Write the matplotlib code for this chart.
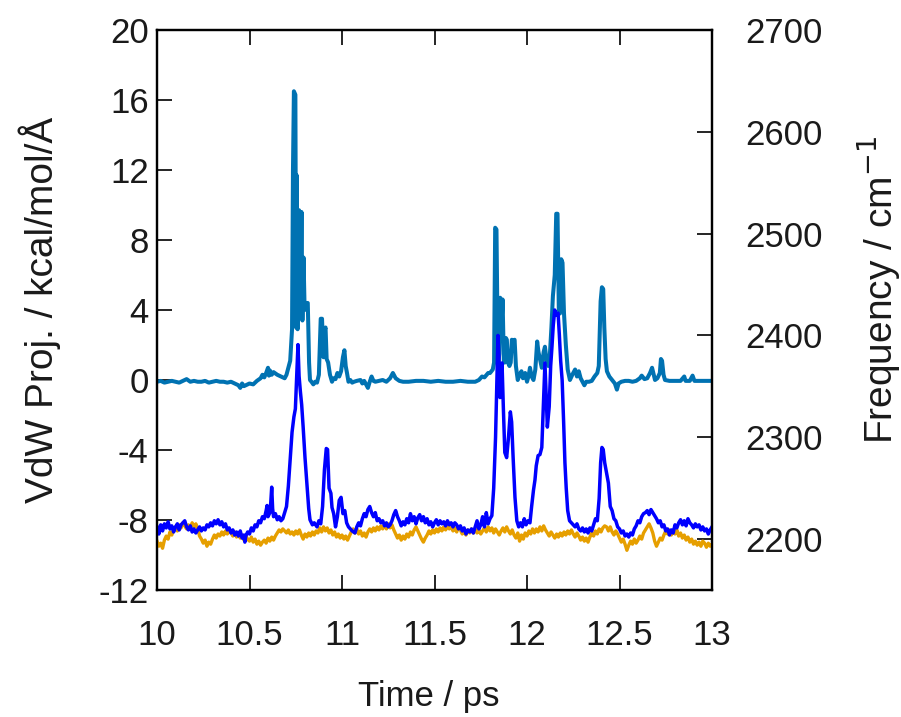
import matplotlib
matplotlib.use("Agg")
import matplotlib.pyplot as plt

# VdW projection (left axis), kcal/mol/A
vdw_t = [10.00, 10.02, 10.04, 10.06, 10.08, 10.10, 10.12, 10.14, 10.16, 10.18,
         10.20, 10.22, 10.24, 10.26, 10.28, 10.30, 10.32, 10.34, 10.36, 10.38,
         10.40, 10.42, 10.44, 10.45, 10.46, 10.47, 10.48, 10.50, 10.52, 10.54,
         10.56, 10.57, 10.58, 10.59, 10.60, 10.605, 10.61, 10.62, 10.63, 10.65,
         10.67, 10.69, 10.70, 10.71, 10.72, 10.73, 10.735, 10.740, 10.748, 10.752,
         10.755, 10.760, 10.768, 10.775, 10.781, 10.786, 10.792, 10.798, 10.805, 10.815,
         10.822, 10.827, 10.835, 10.845, 10.855, 10.865, 10.875, 10.885, 10.892, 10.900,
         10.905, 10.911, 10.917, 10.925, 10.935, 10.946, 10.955, 10.965, 10.975, 10.985,
         10.995, 11.005, 11.013, 11.020, 11.027, 11.035, 11.045, 11.055, 11.065, 11.08,
         11.10, 11.11, 11.12, 11.13, 11.14, 11.15, 11.16, 11.17, 11.18, 11.20,
         11.22, 11.24, 11.26, 11.275, 11.29, 11.31, 11.33, 11.36, 11.40, 11.44,
         11.48, 11.52, 11.56, 11.60, 11.64, 11.68, 11.72, 11.74, 11.757, 11.77,
         11.79, 11.80, 11.815, 11.822, 11.828, 11.835, 11.843, 11.850, 11.855, 11.862,
         11.868, 11.875, 11.880, 11.886, 11.891, 11.897, 11.905, 11.912, 11.918, 11.926,
         11.933, 11.940, 11.950, 11.960, 11.970, 11.978, 11.990, 12.000, 12.010, 12.016,
         12.025, 12.035, 12.045, 12.055, 12.062, 12.070, 12.080, 12.090, 12.097, 12.105,
         12.115, 12.124, 12.132, 12.140, 12.150, 12.158, 12.165, 12.172, 12.178, 12.185,
         12.192, 12.200, 12.210, 12.220, 12.232, 12.245, 12.26, 12.27, 12.28, 12.29,
         12.30, 12.31, 12.32, 12.335, 12.35, 12.365, 12.38, 12.388, 12.398, 12.405,
         12.412, 12.418, 12.425, 12.432, 12.445, 12.46, 12.475, 12.486, 12.495, 12.51,
         12.53, 12.55, 12.57, 12.59, 12.61, 12.62, 12.635, 12.65, 12.665, 12.676,
         12.685, 12.692, 12.705, 12.718, 12.724, 12.730, 12.738, 12.746, 12.77, 12.80,
         12.83, 12.85, 12.857, 12.88, 12.895, 12.905, 12.93, 12.96, 13.00]
vdw_v = [-0.10, -0.05, -0.15, -0.10, -0.05, -0.10, -0.15, -0.05, 0.05, -0.10,
         -0.05, -0.10, -0.10, -0.05, -0.15, -0.10, -0.05, -0.10, -0.10, -0.15,
         -0.10, -0.20, -0.30, -0.45, -0.20, -0.35, -0.30, -0.20, -0.25, -0.05,
         0.10, 0.30, 0.15, 0.40, 0.70, 0.25, 0.55, 0.30, 0.45, 0.30,
         0.20, 0.10, 0.30, 0.70, 1.10, 2.90, 12.0, 16.5, 16.3, 3.0,
         11.7, 2.9, 9.7, 4.0, 9.6, 3.4, 7.0, 4.0, 4.4, 4.4,
         1.0, 0.0, -0.10, -0.25, -0.10, -0.15, 0.30, 3.5, 3.5, 1.3,
         2.8, 3.0, 1.2, 1.0, 0.3, -0.10, 0.10, 0.05, 0.40, 0.20,
         0.50, 1.30, 1.70, 0.80, 0.40, -0.10, 0.00, -0.15, -0.10, -0.05,
         0.00, -0.20, -0.05, -0.25, -0.45, -0.10, 0.20, -0.05, -0.10, -0.05,
         0.00, -0.10, 0.10, 0.40, 0.10, -0.05, -0.10, -0.10, -0.05, -0.05,
         -0.10, -0.05, -0.10, -0.10, -0.05, -0.10, -0.10, 0.00, 0.20, 0.15,
         0.40, 0.40, 0.60, 1.00, 8.7, 8.6, 0.60, 1.50, 4.7, 3.0,
         4.6, 1.0, 1.0, 2.4, 2.3, 1.0, 0.8, 1.0, 2.3, 2.2,
         2.3, 0.8, 0.0, 0.3, 0.5, 0.1, 0.4, -0.1, 0.3, 0.7,
         0.2, 0.0, 0.6, 2.2, 1.6, 1.2, 0.7, 1.6, 1.9, 1.2,
         0.8, 1.5, 3.0, 4.8, 6.0, 9.5, 9.5, 4.0, 3.8, 6.9,
         6.7, 3.8, 2.0, 0.6, 0.0, 0.3, 0.6, 0.2, 0.5, 0.1,
         -0.10, -0.30, -0.10, -0.10, -0.05, 0.20, 0.40, 0.80, 4.5, 5.3,
         5.2, 3.0, 1.2, 0.5, 0.2, 0.00, -0.20, -0.55, -0.20, -0.10,
         -0.05, -0.05, -0.10, -0.05, 0.10, 0.25, 0.05, 0.10, 0.40, 0.70,
         0.30, 0.00, 0.10, 0.40, 1.20, 1.10, 0.30, 0.00, -0.05, -0.05,
         -0.05, 0.20, -0.05, -0.05, 0.25, -0.05, -0.05, -0.05, -0.05]

# frequency trajectories (right axis), cm-1
freq_t = [10.00, 10.01, 10.02, 10.03, 10.04, 10.05, 10.06, 10.07, 10.08, 10.09,
          10.10, 10.11, 10.12, 10.13, 10.14, 10.15, 10.16, 10.17, 10.18, 10.19,
          10.20, 10.21, 10.22, 10.23, 10.24, 10.25, 10.26, 10.27, 10.28, 10.29,
          10.30, 10.31, 10.32, 10.33, 10.34, 10.35, 10.36, 10.37, 10.38, 10.39,
          10.40, 10.41, 10.42, 10.43, 10.44, 10.45, 10.46, 10.47, 10.475, 10.48,
          10.49, 10.50, 10.51, 10.52, 10.53, 10.54, 10.55, 10.56, 10.57, 10.58,
          10.59, 10.595, 10.60, 10.61, 10.615, 10.62, 10.625, 10.63, 10.64, 10.65,
          10.66, 10.67, 10.68, 10.69, 10.70, 10.71, 10.72, 10.73, 10.74, 10.748,
          10.755, 10.762, 10.768, 10.775, 10.782, 10.79, 10.80, 10.81, 10.82, 10.827,
          10.84, 10.85, 10.865, 10.875, 10.885, 10.895, 10.905, 10.915, 10.922, 10.93,
          10.94, 10.946, 10.955, 10.965, 10.975, 10.985, 10.995, 11.005, 11.015, 11.025,
          11.035, 11.045, 11.055, 11.07, 11.08, 11.09, 11.10, 11.11, 11.12, 11.13,
          11.14, 11.15, 11.16, 11.17, 11.18, 11.19, 11.20, 11.21, 11.22, 11.23,
          11.24, 11.25, 11.26, 11.27, 11.28, 11.29, 11.30, 11.31, 11.32, 11.33,
          11.34, 11.35, 11.36, 11.37, 11.38, 11.39, 11.40, 11.41, 11.42, 11.43,
          11.44, 11.45, 11.46, 11.47, 11.48, 11.49, 11.50, 11.51, 11.52, 11.53,
          11.54, 11.55, 11.56, 11.57, 11.58, 11.59, 11.60, 11.61, 11.62, 11.63,
          11.64, 11.65, 11.66, 11.67, 11.68, 11.69, 11.70, 11.71, 11.72, 11.73,
          11.74, 11.75, 11.76, 11.77, 11.78, 11.79, 11.80, 11.81, 11.82, 11.83,
          11.838, 11.843, 11.848, 11.854, 11.86, 11.865, 11.872, 11.88, 11.89, 11.90,
          11.91, 11.917, 11.925, 11.935, 11.945, 11.955, 11.965, 11.975, 11.985, 11.995,
          12.005, 12.016, 12.025, 12.035, 12.043, 12.05, 12.06, 12.07, 12.08, 12.088,
          12.097, 12.104, 12.11, 12.12, 12.128, 12.135, 12.142, 12.15, 12.158, 12.168,
          12.175, 12.182, 12.19, 12.198, 12.205, 12.212, 12.22, 12.23, 12.24, 12.25,
          12.26, 12.27, 12.28, 12.29, 12.30, 12.31, 12.32, 12.33, 12.34, 12.35,
          12.36, 12.37, 12.38, 12.39, 12.398, 12.405, 12.412, 12.42, 12.43, 12.44,
          12.45, 12.46, 12.47, 12.48, 12.49, 12.50, 12.51, 12.52, 12.53, 12.54,
          12.55, 12.56, 12.57, 12.58, 12.59, 12.60, 12.61, 12.62, 12.63, 12.64,
          12.65, 12.66, 12.67, 12.68, 12.69, 12.70, 12.71, 12.72, 12.73, 12.74,
          12.75, 12.76, 12.77, 12.78, 12.79, 12.80, 12.81, 12.82, 12.83, 12.84,
          12.85, 12.86, 12.87, 12.88, 12.89, 12.90, 12.91, 12.92, 12.93, 12.94,
          12.95, 12.96, 12.97, 12.98, 12.99, 13.00]
freq_blue = [2212, 2205, 2214, 2208, 2215, 2211, 2217, 2210, 2213, 2207,
             2212, 2215, 2209, 2214, 2216, 2218, 2212, 2209, 2213, 2207,
             2210, 2206, 2209, 2212, 2208, 2211, 2209, 2214, 2212, 2216,
             2213, 2218, 2215, 2219, 2214, 2217, 2212, 2215, 2209, 2211,
             2206, 2209, 2204, 2207, 2203, 2208, 2201, 2204, 2197, 2203,
             2207, 2205, 2211, 2208, 2214, 2212, 2218, 2216, 2222, 2220,
             2228, 2233, 2222, 2226, 2236, 2251, 2230, 2222, 2225, 2219,
             2222, 2218, 2220, 2226, 2232, 2252, 2278, 2305, 2320, 2328,
             2360, 2391, 2360, 2345, 2332, 2310, 2280, 2255, 2230, 2219,
             2214, 2216, 2212, 2218, 2215, 2232, 2268, 2289, 2288, 2250,
             2245, 2231, 2225, 2212, 2222, 2238, 2241, 2225, 2228, 2216,
             2212, 2210, 2208, 2206, 2212, 2216, 2213, 2220, 2225, 2222,
             2229, 2232, 2226, 2222, 2226, 2218, 2220, 2216, 2218, 2213,
             2216, 2212, 2214, 2218, 2224, 2228, 2222, 2218, 2213, 2217,
             2214, 2220, 2216, 2225, 2218, 2222, 2215, 2221, 2224, 2218,
             2222, 2216, 2220, 2214, 2217, 2212, 2216, 2219, 2214, 2218,
             2215, 2217, 2213, 2218, 2214, 2216, 2212, 2216, 2214, 2210,
             2213, 2208, 2211, 2205, 2209, 2207, 2210, 2206, 2212, 2218,
             2210, 2214, 2222, 2212, 2226, 2215, 2220, 2223, 2250, 2300,
             2360, 2400, 2380, 2339, 2355, 2373, 2330, 2285, 2280, 2300,
             2325, 2315, 2280, 2241, 2218, 2212, 2216, 2212, 2220, 2214,
             2218, 2216, 2232, 2248, 2258, 2272, 2282, 2283, 2290, 2330,
             2373, 2340, 2310, 2330, 2370, 2389, 2410, 2425, 2420, 2422,
             2400, 2375, 2356, 2315, 2275, 2250, 2228, 2218, 2216, 2214,
             2212, 2215, 2210, 2208, 2211, 2207, 2210, 2206, 2211, 2208,
             2214, 2220, 2218, 2240, 2275, 2290, 2288, 2275, 2265, 2255,
             2232, 2228, 2220, 2218, 2212, 2210, 2206, 2208, 2203, 2205,
             2202, 2206, 2204, 2210, 2213, 2218, 2216, 2222, 2225, 2226,
             2228, 2224, 2229, 2226, 2223, 2220, 2216, 2218, 2212, 2214,
             2208, 2210, 2204, 2209, 2206, 2214, 2211, 2216, 2219, 2214,
             2218, 2213, 2220, 2216, 2214, 2211, 2215, 2212, 2214, 2209,
             2212, 2208, 2210, 2205, 2209, 2212]

orange_t = [10.00, 10.01, 10.02, 10.03, 10.04, 10.05, 10.06, 10.07, 10.08, 10.09,
            10.10, 10.11, 10.12, 10.13, 10.14, 10.15, 10.16, 10.17, 10.18, 10.19,
            10.20, 10.21, 10.22, 10.23, 10.24, 10.25, 10.26, 10.27, 10.28, 10.29,
            10.30, 10.31, 10.32, 10.33, 10.34, 10.35, 10.36, 10.37, 10.38, 10.39,
            10.40, 10.41, 10.42, 10.43, 10.44, 10.45, 10.46, 10.47, 10.48, 10.49,
            10.50, 10.51, 10.52, 10.53, 10.54, 10.55, 10.56, 10.57, 10.58, 10.59,
            10.60, 10.61, 10.62, 10.63, 10.64, 10.65, 10.66, 10.67, 10.68, 10.69,
            10.70, 10.71, 10.72, 10.73, 10.74, 10.75, 10.76, 10.77, 10.78, 10.79,
            10.80, 10.81, 10.82, 10.83, 10.84, 10.85, 10.86, 10.87, 10.88, 10.89,
            10.90, 10.91, 10.92, 10.93, 10.94, 10.95, 10.96, 10.97, 10.98, 10.99,
            11.00, 11.01, 11.02, 11.03, 11.04, 11.05, 11.06, 11.07, 11.08, 11.09,
            11.10, 11.11, 11.12, 11.13, 11.14, 11.15, 11.16, 11.17, 11.18, 11.19,
            11.20, 11.21, 11.22, 11.23, 11.24, 11.25, 11.26, 11.27, 11.28, 11.29,
            11.30, 11.31, 11.32, 11.33, 11.34, 11.35, 11.36, 11.37, 11.38, 11.39,
            11.40, 11.41, 11.42, 11.43, 11.44, 11.45, 11.46, 11.47, 11.48, 11.49,
            11.50, 11.51, 11.52, 11.53, 11.54, 11.55, 11.56, 11.57, 11.58, 11.59,
            11.60, 11.61, 11.62, 11.63, 11.64, 11.65, 11.66, 11.67, 11.68, 11.69,
            11.70, 11.71, 11.72, 11.73, 11.74, 11.75, 11.76, 11.77, 11.78, 11.79,
            11.80, 11.81, 11.82, 11.83, 11.84, 11.85, 11.86, 11.87, 11.88, 11.89,
            11.90, 11.91, 11.92, 11.93, 11.94, 11.95, 11.96, 11.97, 11.98, 11.99,
            12.00, 12.01, 12.02, 12.03, 12.04, 12.05, 12.06, 12.07, 12.08, 12.09,
            12.10, 12.11, 12.12, 12.13, 12.14, 12.15, 12.16, 12.17, 12.18, 12.19,
            12.20, 12.21, 12.22, 12.23, 12.24, 12.25, 12.26, 12.27, 12.28, 12.29,
            12.30, 12.31, 12.32, 12.33, 12.34, 12.35, 12.36, 12.37, 12.38, 12.39,
            12.40, 12.41, 12.42, 12.43, 12.44, 12.45, 12.46, 12.47, 12.48, 12.49,
            12.50, 12.51, 12.52, 12.53, 12.54, 12.55, 12.56, 12.57, 12.58, 12.59,
            12.60, 12.61, 12.62, 12.63, 12.64, 12.65, 12.66, 12.67, 12.68, 12.69,
            12.70, 12.71, 12.72, 12.73, 12.74, 12.75, 12.76, 12.77, 12.78, 12.79,
            12.80, 12.81, 12.82, 12.83, 12.84, 12.85, 12.86, 12.87, 12.88, 12.89,
            12.90, 12.91, 12.92, 12.93, 12.94, 12.95, 12.96, 12.97, 12.98, 12.99,
            13.00]
freq_orange = [2198, 2193, 2196, 2191, 2199, 2203, 2200, 2207, 2204, 2210,
               2212, 2208, 2214, 2211, 2216, 2213, 2210, 2214, 2211, 2216,
               2212, 2215, 2210, 2203, 2200, 2196, 2199, 2193, 2197, 2195,
               2200, 2204, 2201, 2205, 2203, 2207, 2204, 2208, 2205, 2209,
               2206, 2203, 2207, 2202, 2205, 2201, 2204, 2199, 2203, 2200,
               2198, 2202, 2197, 2200, 2195, 2198, 2194, 2197, 2199, 2196,
               2201, 2198, 2202, 2199, 2203, 2206, 2209, 2207, 2210, 2208,
               2206, 2209, 2205, 2207, 2204, 2208, 2205, 2209, 2204, 2200,
               2205, 2202, 2206, 2203, 2207, 2204, 2208, 2206, 2211, 2207,
               2212, 2208, 2211, 2206, 2209, 2204, 2207, 2202, 2205, 2201,
               2204, 2200, 2203, 2199, 2203, 2207, 2210, 2206, 2210, 2205,
               2208, 2203, 2206, 2202, 2207, 2210, 2207, 2211, 2208, 2212,
               2209, 2213, 2210, 2214, 2210, 2215, 2211, 2214, 2209, 2205,
               2201, 2204, 2199, 2203, 2200, 2205, 2202, 2207, 2204, 2209,
               2212, 2208, 2204, 2200, 2197, 2201, 2204, 2208, 2205, 2209,
               2206, 2210, 2207, 2211, 2208, 2212, 2209, 2213, 2210, 2212,
               2208, 2211, 2207, 2212, 2209, 2205, 2208, 2204, 2209, 2206,
               2210, 2206, 2210, 2206, 2209, 2205, 2208, 2211, 2207, 2212,
               2208, 2211, 2206, 2210, 2207, 2204, 2208, 2211, 2207, 2212,
               2208, 2205, 2209, 2204, 2201, 2206, 2198, 2204, 2200, 2206,
               2203, 2208, 2205, 2210, 2206, 2210, 2207, 2212, 2208, 2213,
               2209, 2206, 2203, 2207, 2204, 2201, 2205, 2202, 2206, 2203,
               2207, 2204, 2208, 2205, 2209, 2205, 2202, 2206, 2203, 2199,
               2202, 2198, 2201, 2197, 2202, 2206, 2203, 2208, 2205, 2210,
               2207, 2211, 2213, 2212, 2208, 2212, 2207, 2204, 2208, 2205,
               2201, 2197, 2200, 2195, 2189, 2194, 2198, 2195, 2200, 2196,
               2199, 2203, 2200, 2206, 2209, 2212, 2215, 2211, 2206, 2198,
               2193, 2197, 2201, 2199, 2204, 2208, 2205, 2209, 2204, 2208,
               2205, 2209, 2203, 2206, 2201, 2204, 2199, 2202, 2197, 2200,
               2195, 2198, 2194, 2197, 2193, 2198, 2196, 2192, 2196, 2193,
               2195]

x_ticks = [10, 10.5, 11, 11.5, 12, 12.5, 13]
x_ticklabels = ["10", "10.5", "11", "11.5", "12", "12.5", "13"]
left_ticks = [-12, -8, -4, 0, 4, 8, 12, 16, 20]
right_ticks = [2200, 2300, 2400, 2500, 2600, 2700]

plt.rcParams['font.family'] = ['Liberation Sans', 'DejaVu Sans']
plt.rcParams['axes.unicode_minus'] = False
fs = 25      # tick labels and x label
fs_y = 28    # rotated axis labels
txt = '#1a1a1a'

fig = plt.figure(figsize=(9.01, 7.17), dpi=100)
W, H = 901, 717
ax = fig.add_axes([157 / W, (H - 590) / H, 555 / W, 560 / H])
ax2 = ax.twinx()

ax.plot(vdw_t, vdw_v, color='#0072B2', lw=2.9)
ax2.plot(orange_t, freq_orange, color='#E69F00', lw=2.4)
ax2.plot(freq_t, freq_blue, color='#0000FF', lw=2.5)

ax.set_xlim(10, 13)
ax.set_ylim(-12, 20)
ax2.set_ylim(2150, 2700)

ax.set_xticks(x_ticks)
ax.set_xticklabels(x_ticklabels)
ax.set_yticks(left_ticks)
ax2.set_yticks(right_ticks)

ax.tick_params(axis='x', direction='in', top=True, length=11, width=1.2,
               labelsize=fs, labelcolor=txt, pad=21)
ax.tick_params(axis='y', direction='in', right=False, length=11, width=1.2,
               labelsize=fs, labelcolor=txt, pad=6)
ax2.tick_params(axis='y', direction='in', length=11, width=1.2,
                labelsize=fs, labelcolor=txt, pad=24)

for a in (ax, ax2):
    for s in a.spines.values():
        s.set_linewidth(1.6)
        s.set_color('black')

ax.set_xlabel('Time / ps', fontsize=fs, color=txt)
ax.xaxis.label.set_va('baseline')
ax.xaxis.set_label_coords(0.49, (590 - 706) / 560)

ax.set_ylabel('VdW Proj. / kcal/mol/Å', fontsize=fs_y, color=txt)
ax.yaxis.label.set_va('center')
ax.yaxis.set_label_coords((40 - 157) / 555, (590 - 310) / 560)

ax2.set_ylabel('Frequency / cm$^{-1}$', fontsize=fs_y, color=txt)
ax2.yaxis.label.set_va('center')
ax2.yaxis.set_label_coords((879 - 157) / 555, (590 - 290) / 560)

fig.savefig('out.png', dpi=100)
